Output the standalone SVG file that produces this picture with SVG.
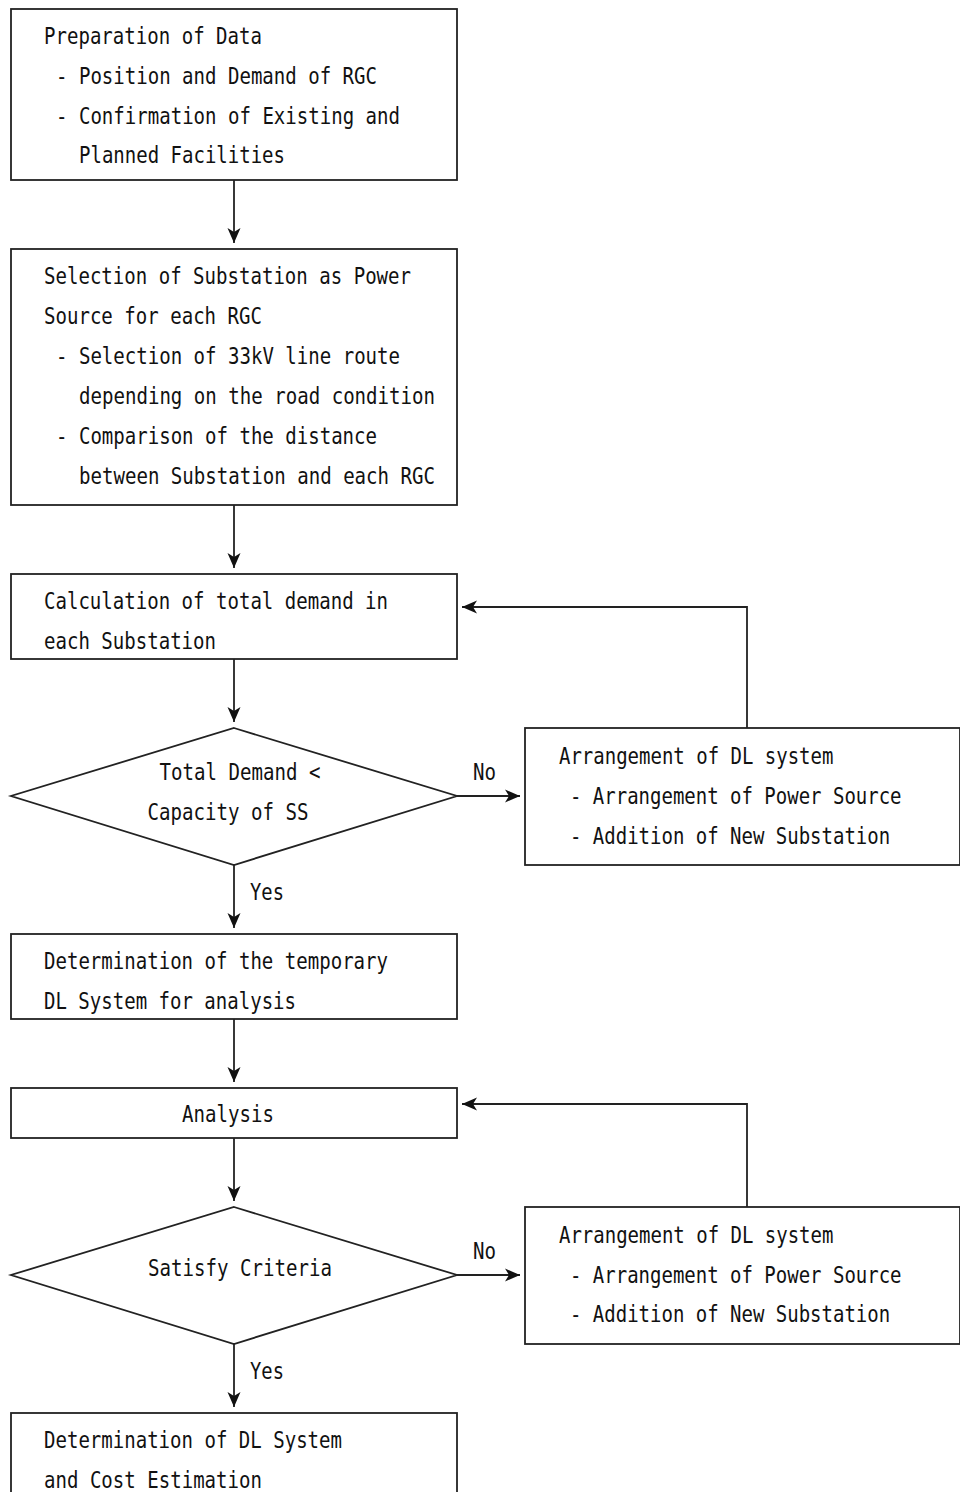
<svg xmlns="http://www.w3.org/2000/svg" width="960" height="1492" viewBox="0 0 960 1492">
<style>
.box{fill:#fff;stroke:#222;stroke-width:1.8}
.ln{fill:none;stroke:#222;stroke-width:1.8}
text{font-family:"DejaVu Sans Mono","Liberation Mono",monospace;font-size:23px;fill:#111}
.s{font-size:19px}
.c{text-anchor:middle}
</style>
<defs>
<marker id="ah" markerUnits="userSpaceOnUse" markerWidth="16" markerHeight="14" viewBox="0 -7 16 14" refX="15" refY="0" orient="auto">
<path d="M0,-6.5 L15,0 L0,6.5 L4,0 z" fill="#111"/>
</marker>
</defs>
<rect width="960" height="1492" fill="#fff"/>
<g id="connectors">
<line class="ln" x1="234" y1="180" x2="234" y2="243" marker-end="url(#ah)"/>
<line class="ln" x1="234" y1="505" x2="234" y2="568" marker-end="url(#ah)"/>
<line class="ln" x1="234" y1="659" x2="234" y2="722" marker-end="url(#ah)"/>
<line class="ln" x1="457" y1="796" x2="520" y2="796" marker-end="url(#ah)"/>
<polyline class="ln" points="747,728 747,607 462,607" marker-end="url(#ah)"/>
<line class="ln" x1="234" y1="865" x2="234" y2="928" marker-end="url(#ah)"/>
<line class="ln" x1="234" y1="1019" x2="234" y2="1082" marker-end="url(#ah)"/>
<line class="ln" x1="234" y1="1138" x2="234" y2="1201" marker-end="url(#ah)"/>
<line class="ln" x1="457" y1="1275" x2="520" y2="1275" marker-end="url(#ah)"/>
<polyline class="ln" points="747,1207 747,1104 462,1104" marker-end="url(#ah)"/>
<line class="ln" x1="234" y1="1344" x2="234" y2="1407" marker-end="url(#ah)"/>
<text x="473" y="780" textLength="23" lengthAdjust="spacingAndGlyphs">No</text>
<text x="473" y="1259" textLength="23" lengthAdjust="spacingAndGlyphs">No</text>
<text x="250" y="900" textLength="34" lengthAdjust="spacingAndGlyphs">Yes</text>
<text x="250" y="1379" textLength="34" lengthAdjust="spacingAndGlyphs">Yes</text>
</g>
<g id="n1">
<rect class="box" x="11" y="9" width="446" height="171"/>
<text x="44" y="44" textLength="218" lengthAdjust="spacingAndGlyphs">Preparation of Data</text>
<text x="56" y="84" textLength="321" lengthAdjust="spacingAndGlyphs">- Position and Demand of RGC</text>
<text x="56" y="124" textLength="344" lengthAdjust="spacingAndGlyphs">- Confirmation of Existing and</text>
<text x="79" y="163" textLength="206" lengthAdjust="spacingAndGlyphs">Planned Facilities</text>
</g>
<g id="n2">
<rect class="box" x="11" y="249" width="446" height="256"/>
<text x="44" y="284" textLength="367" lengthAdjust="spacingAndGlyphs">Selection of Substation as Power</text>
<text x="44" y="324" textLength="218" lengthAdjust="spacingAndGlyphs">Source for each RGC</text>
<text x="56" y="364" textLength="344" lengthAdjust="spacingAndGlyphs">- Selection of 33kV line route</text>
<text x="79" y="404" textLength="356" lengthAdjust="spacingAndGlyphs">depending on the road condition</text>
<text x="56" y="444" textLength="321" lengthAdjust="spacingAndGlyphs">- Comparison of the distance</text>
<text x="79" y="484" textLength="356" lengthAdjust="spacingAndGlyphs">between Substation and each RGC</text>
</g>
<g id="n3">
<rect class="box" x="11" y="574" width="446" height="85"/>
<text x="44" y="609" textLength="344" lengthAdjust="spacingAndGlyphs">Calculation of total demand in</text>
<text x="44" y="649" textLength="172" lengthAdjust="spacingAndGlyphs">each Substation</text>
</g>
<g id="d1">
<polygon class="box" points="234,728 457,796 234,865 11,796"/>
<text class="c" x="240" y="780" textLength="161" lengthAdjust="spacingAndGlyphs">Total Demand &lt;</text>
<text class="c" x="228" y="820" textLength="161" lengthAdjust="spacingAndGlyphs">Capacity of SS</text>
</g>
<g id="r1">
<rect class="box" x="525" y="728" width="435" height="137"/>
<text class="s" transform="translate(559,764) scale(1,1.21)">Arrangement of DL system</text>
<text class="s" transform="translate(570,804) scale(1,1.21)">- Arrangement of Power Source</text>
<text class="s" transform="translate(570,844) scale(1,1.21)">- Addition of New Substation</text>
</g>
<g id="n4">
<rect class="box" x="11" y="934" width="446" height="85"/>
<text x="44" y="969" textLength="344" lengthAdjust="spacingAndGlyphs">Determination of the temporary</text>
<text x="44" y="1009" textLength="252" lengthAdjust="spacingAndGlyphs">DL System for analysis</text>
</g>
<g id="n5">
<rect class="box" x="11" y="1088" width="446" height="50"/>
<text class="c" x="228" y="1122" textLength="92" lengthAdjust="spacingAndGlyphs">Analysis</text>
</g>
<g id="d2">
<polygon class="box" points="234,1207 457,1275 234,1344 11,1275"/>
<text class="c" x="240" y="1276" textLength="184" lengthAdjust="spacingAndGlyphs">Satisfy Criteria</text>
</g>
<g id="r2">
<rect class="box" x="525" y="1207" width="435" height="137"/>
<text class="s" transform="translate(559,1243) scale(1,1.21)">Arrangement of DL system</text>
<text class="s" transform="translate(570,1283) scale(1,1.21)">- Arrangement of Power Source</text>
<text class="s" transform="translate(570,1322) scale(1,1.21)">- Addition of New Substation</text>
</g>
<g id="n6">
<rect class="box" x="11" y="1413" width="446" height="100"/>
<text x="44" y="1448" textLength="298" lengthAdjust="spacingAndGlyphs">Determination of DL System</text>
<text x="44" y="1488" textLength="218" lengthAdjust="spacingAndGlyphs">and Cost Estimation</text>
</g>
</svg>
